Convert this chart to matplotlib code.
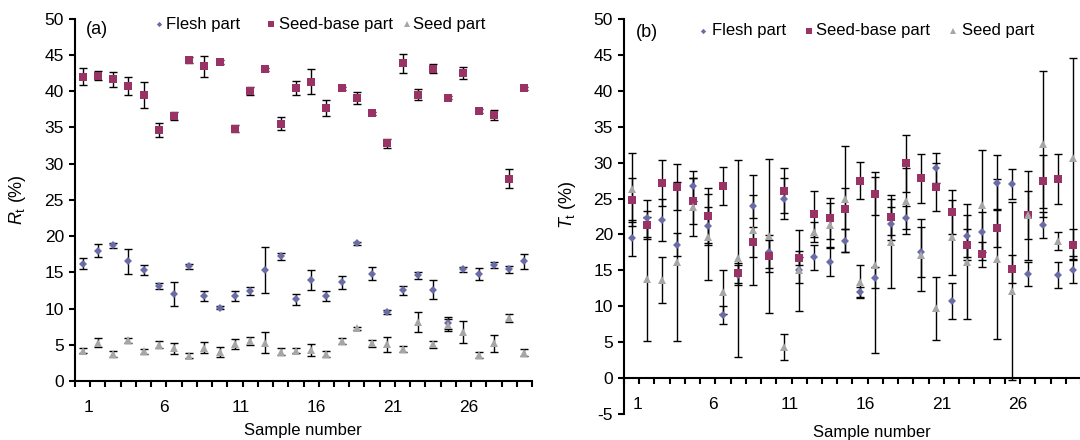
import matplotlib
matplotlib.use("Agg")
import matplotlib.pyplot as plt
from matplotlib.lines import Line2D
import numpy as np

plt.rcParams['font.family'] = ['Liberation Sans', 'DejaVu Sans']
plt.rcParams['axes.unicode_minus'] = False
plt.rcParams['mathtext.fontset'] = 'custom'
plt.rcParams['mathtext.rm'] = 'Liberation Sans'
plt.rcParams['mathtext.it'] = 'Liberation Sans:italic'

# ---------------- data ----------------
samples = list(range(1, 31))
tick_labels = ["1", "6", "11", "16", "21", "26"]
series_names = ["Flesh part", "Seed-base part", "Seed part"]

# panel (a): R_t (%)
flesh_a = [16.2, 18.0, 18.7, 16.5, 15.3, 13.1, 12.0, 15.8, 11.7, 10.1, 11.7, 12.4, 15.3, 17.2, 11.3,
           13.9, 11.7, 13.6, 19.0, 14.8, 9.5, 12.5, 14.6, 12.6, 8.0, 15.4, 14.8, 16.0, 15.4, 16.5]
flesh_a_err = [0.8, 0.9, 0.35, 1.7, 0.7, 0.4, 1.7, 0.4, 0.65, 0.2, 0.65, 0.6, 3.2, 0.45, 0.75,
               1.4, 0.65, 0.9, 0.2, 0.9, 0.3, 0.65, 0.5, 1.3, 0.8, 0.3, 0.8, 0.45, 0.45, 1.0]
seedbase_a = [42.0, 42.1, 41.6, 40.7, 39.5, 34.6, 36.6, 44.3, 43.4, 44.0, 34.8, 40.0, 43.0, 35.5, 40.4,
              41.3, 37.6, 40.4, 39.0, 36.9, 32.8, 43.8, 39.5, 43.1, 39.1, 42.5, 37.2, 36.7, 27.9, 40.4]
seedbase_a_err = [1.15, 0.6, 1.0, 1.2, 1.8, 1.0, 0.55, 0.4, 1.45, 0.3, 0.5, 0.55, 0.2, 0.85, 1.0,
                  1.7, 1.1, 0.2, 0.8, 0.2, 0.6, 1.3, 0.75, 0.6, 0.2, 0.8, 0.3, 0.7, 1.3, 0.2]
seed_a = [4.2, 5.3, 3.7, 5.65, 4.1, 5.0, 4.5, 3.5, 4.6, 4.0, 5.05, 5.5, 5.3, 4.05, 4.2,
          4.3, 3.7, 5.55, 7.3, 5.2, 5.05, 4.4, 8.1, 5.05, 7.7, 6.8, 3.6, 5.2, 8.7, 3.9]
seed_a_err = [0.35, 0.65, 0.4, 0.35, 0.35, 0.5, 0.8, 0.35, 0.8, 0.75, 0.7, 0.55, 1.4, 0.45, 0.35,
              0.8, 0.45, 0.45, 0.2, 0.5, 1.0, 0.45, 1.35, 0.5, 0.8, 1.5, 0.4, 1.2, 0.55, 0.45]

# panel (b): T_t (%)
flesh_b = [19.55, 22.25, 22.0, 18.6, 26.8, 21.2, 8.8, 14.4, 23.9, 17.6, 25.0, 15.1, 16.8, 16.1, 19.1,
           12.05, 14.0, 21.5, 22.3, 17.6, 29.25, 10.7, 19.8, 20.3, 27.2, 27.0, 14.5, 21.3, 14.3, 15.1]
flesh_b_err = [2.5, 2.55, 2.95, 1.65, 2.1, 2.65, 1.2, 1.4, 1.55, 2.3, 2.9, 1.8, 1.7, 1.95, 1.6,
               0.7, 1.5, 2.3, 1.6, 3.5, 2.15, 2.5, 2.9, 2.8, 3.85, 2.05, 1.7, 1.8, 1.8, 1.9]
seedbase_b = [24.8, 21.3, 27.1, 26.6, 24.6, 22.6, 26.8, 14.6, 18.9, 17.0, 26.1, 16.7, 22.8, 22.25, 23.6,
              27.5, 25.7, 22.4, 29.9, 27.8, 26.6, 23.1, 18.6, 17.25, 20.9, 15.2, 22.7, 27.4, 27.7, 18.6]
seedbase_b_err = [3.1, 2.0, 3.2, 3.2, 3.2, 3.8, 2.65, 1.4, 2.1, 2.2, 3.1, 1.0, 3.2, 2.85, 2.85,
                  2.6, 3.0, 2.5, 4.0, 3.45, 3.3, 3.1, 2.2, 1.75, 2.6, 1.9, 3.4, 3.7, 3.5, 2.2]
seed_b = [26.3, 13.8, 13.6, 16.2, 23.8, 19.6, 12.0, 16.7, 20.6, 19.8, 4.3, 15.0, 20.4, 21.3, 24.9,
          13.4, 15.75, 19.0, 24.7, 17.15, 9.7, 19.6, 16.2, 24.1, 16.6, 12.1, 22.7, 32.6, 19.1, 30.6]
seed_b_err = [5.1, 8.6, 3.2, 11.1, 4.0, 6.0, 3.1, 13.7, 7.7, 10.7, 1.8, 5.6, 1.4, 3.1, 7.4,
              2.3, 12.3, 6.5, 4.6, 5.0, 4.4, 5.25, 8.0, 7.6, 11.1, 12.4, 6.2, 10.2, 1.3, 14.0]

# ---------------- styles ----------------
C_FLESH = '#6B6BA8'
C_BASE = '#993366'
C_SEED = '#A6A6A6'
styles = [dict(marker='D', color=C_FLESH, ms=3.6),
          dict(marker='s', color=C_BASE, ms=6.0),
          dict(marker='^', color=C_SEED, ms=5.2)]

W, H = 1080, 440
fig = plt.figure(figsize=(W / 100, H / 100), dpi=100)


def px_axes(x0, x1, ytop, ybot):
    return fig.add_axes([x0 / W, 1 - ybot / H, (x1 - x0) / W, (ybot - ytop) / H])


ax_a = px_axes(75, 532, 18.5, 381)
ax_b = px_axes(624, 1081, 19, 414)

FS = 12.5


def draw_panel(ax, data, ylim, ylabel, ylabel_x, ylabel_y):
    x = np.array(samples)
    for (vals, errs), st in zip(data, styles):
        ax.errorbar(x, vals, yerr=errs, fmt='none', ecolor='black', elinewidth=1.0,
                    capsize=3.0, capthick=1.0, zorder=2)
    for (vals, errs), st in zip(data, styles):
        ax.plot(x, vals, linestyle='none', marker=st['marker'], color=st['color'],
                ms=st['ms'], mec=st['color'], mew=0, zorder=3)
    ax.set_xlim(0.5, 30.5)
    ax.set_ylim(*ylim)
    for s in ['top', 'right']:
        ax.spines[s].set_visible(False)
    for s in ['left', 'bottom']:
        ax.spines[s].set_linewidth(1.5)
        ax.spines[s].set_color('black')
    ax.spines['bottom'].set_position(('data', 0))
    ax.set_yticks(np.arange(ylim[0], ylim[1] + 0.1, 5))
    ax.tick_params(axis='y', direction='out', length=4, width=1.5, labelsize=FS, pad=4)
    # category boundary tick marks
    ax.set_xticks(np.arange(0.5, 31, 1.0), minor=True)
    ax.tick_params(axis='x', which='minor', direction='out', length=4.5, width=1.5)
    ax.set_xticks([int(t) + 0.37 for t in tick_labels])
    ax.set_xticklabels(tick_labels)
    ax.tick_params(axis='x', which='major', length=0, labelsize=FS, pad=13.5)
    ax.set_ylabel(ylabel, fontsize=13)
    ax.yaxis.set_label_coords(ylabel_x, ylabel_y)


draw_panel(ax_a, [(flesh_a, flesh_a_err), (seedbase_a, seedbase_a_err), (seed_a, seed_a_err)],
           (0, 50), r'$R_{\mathrm{t}}$ (%)', -0.103, 0.5)
draw_panel(ax_b, [(flesh_b, flesh_b_err), (seedbase_b, seedbase_b_err), (seed_b, seed_b_err)],
           (-5, 50), r'$T_{\mathrm{t}}$ (%)', -0.101, 0.53)

# x labels
fig.text(303 / W, 1 - 430 / H, 'Sample number', ha='center', va='center', fontsize=12)
fig.text(872 / W, 1 - 432 / H, 'Sample number', ha='center', va='center', fontsize=12)

# panel tags
fig.text(96.7 / W, 1 - 30 / H, '(a)', ha='center', va='center', fontsize=13)
fig.text(646.7 / W, 1 - 32.7 / H, '(b)', ha='center', va='center', fontsize=13)


# legends (drawn as in the original, markers followed by text)
def legend_row(y, entries):
    for (mx, tx), name, st in zip(entries, series_names, styles):
        fig.add_artist(Line2D([mx / W], [1 - y / H], transform=fig.transFigure,
                              linestyle='none', marker=st['marker'], color=st['color'],
                              ms=st['ms'] * 0.75, mew=0))
        fig.text(tx / W, 1 - y / H, name, ha='left', va='center', fontsize=12)


legend_row(24, [(159, 166), (271, 279), (406.7, 413)])
legend_row(31, [(703.3, 712), (809, 816), (952.7, 962)])

fig.savefig('out.png', dpi=100)
